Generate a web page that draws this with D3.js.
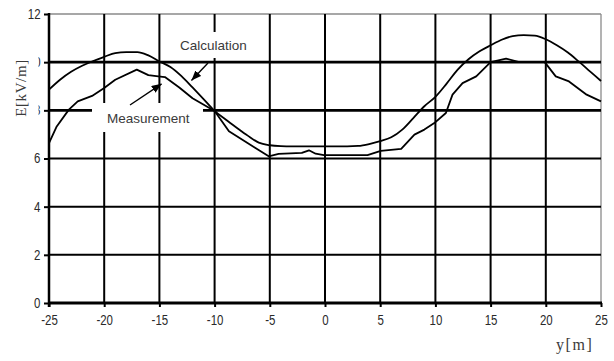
<!DOCTYPE html>
<html>
<head>
<meta charset="utf-8">
<script src="https://cdn.jsdelivr.net/npm/d3@7/dist/d3.min.js"></script>
<style>
  html, body { margin: 0; padding: 0; background: #fff; }
  svg { display: block; }
</style>
</head>
<body>
<svg id="chart" width="614" height="361"></svg>
<script>
// Lateral distance y [m] and electric field E [kV/m] under the line
const xTicks = [-25, -20, -15, -10, -5, 0, 5, 10, 15, 20, 25];
const yTicks = [0, 2, 4, 6, 8, 10, 12];

// Calculated field profile
const calcX = [-25, -24, -23, -22, -21, -20, -19, -18, -17, -16, -15, -14, -13, -12, -11, -10,
  -9, -8, -7, -6, -5, -4, -3, -2, -1, 0, 1, 2, 3, 4, 5, 6, 7, 8, 9, 10,
  11, 12, 13, 14, 15, 16, 17, 18, 19, 20, 21, 22, 23, 24, 25];
const calcE = [8.86, 9.27, 9.6, 9.85, 10.05, 10.22, 10.38, 10.42, 10.42, 10.28, 10.03, 9.8, 9.42, 8.95, 8.47, 7.98,
  7.62, 7.28, 6.95, 6.66, 6.55, 6.51, 6.5, 6.5, 6.5, 6.5, 6.5, 6.5, 6.52, 6.6, 6.72, 6.88, 7.2, 7.68, 8.17, 8.56,
  9.1, 9.68, 10.12, 10.45, 10.7, 10.93, 11.08, 11.12, 11.1, 10.95, 10.7, 10.4, 10.02, 9.62, 9.22];

// Measured field profile
const measX = [-25, -24.3, -23.2, -22.4, -21.1, -20, -19, -17.05, -16, -15.1, -14.5, -13.2, -12,
  -10, -8.7, -6.3, -5.1, -4.2, -2.1, -1.45, -0.85, -0.1, 3.85, 5.05, 6.9, 8.1, 9.0, 9.9,
  10.95, 11.55, 12.46, 13.7, 15.0, 16.4, 17.6, 19.9, 20.9, 22.1, 23.7, 25];
const measE = [6.64, 7.33, 8.03, 8.37, 8.6, 8.93, 9.27, 9.69, 9.46, 9.41, 9.38, 8.95, 8.5,
  7.97, 7.13, 6.44, 6.09, 6.19, 6.23, 6.34, 6.2, 6.14, 6.14, 6.32, 6.4, 6.99, 7.2, 7.47,
  7.89, 8.65, 9.13, 9.41, 10.0, 10.15, 10.0, 10.0, 9.41, 9.2, 8.65, 8.37];

const svg = d3.select("#chart");
const plotL = 49, plotR = 601, plotT = 14, plotB = 303;

const x = d3.scaleLinear().domain([-25, 25]).range([plotL, plotR]);
const y = d3.scaleLinear().domain([0, 12]).range([plotB, plotT]);

const tickFont = "'Liberation Sans', Arial, sans-serif";
const squeeze = 0.82; // condensed look of the tick numerals

// Outer frame (top and right edges in grey)
svg.append("line").attr("x1", plotL).attr("x2", plotR).attr("y1", y(12)).attr("y2", y(12))
  .attr("stroke", "#8a8a8a").attr("stroke-width", 1.3);
svg.append("line").attr("x1", x(25)).attr("x2", x(25)).attr("y1", plotT).attr("y2", plotB)
  .attr("stroke", "#8a8a8a").attr("stroke-width", 1.3);

// Grid
const grid = svg.append("g");
xTicks.filter(v => v > -25 && v < 25).forEach(v => {
  grid.append("line").attr("x1", x(v)).attr("x2", x(v)).attr("y1", plotT).attr("y2", plotB)
    .attr("stroke", "#000").attr("stroke-width", 2);
});
yTicks.filter(v => v > 0 && v < 12).forEach(v => {
  grid.append("line").attr("x1", plotL).attr("x2", plotR).attr("y1", y(v)).attr("y2", y(v))
    .attr("stroke", "#000").attr("stroke-width", v >= 8 ? 2.8 : 2);
});

// Axes
const yAxis = svg.append("g").attr("transform", `translate(${plotL},0)`)
  .call(d3.axisLeft(y).tickValues(yTicks).tickSize(5).tickPadding(4).tickFormat(d => String(d)));
const xAxis = svg.append("g").attr("transform", `translate(0,${plotB})`)
  .call(d3.axisBottom(x).tickValues(xTicks).tickSize(4).tickPadding(8).tickFormat(d => String(d)));

[yAxis, xAxis].forEach(a => {
  a.select(".domain").remove();
  a.selectAll(".tick line").attr("stroke", "#000").attr("stroke-width", 2);
  a.selectAll(".tick text").attr("font-family", tickFont).attr("font-size", 14)
    .attr("fill", "#2a2a2a").attr("transform", `scale(${squeeze},1)`);
});
yAxis.selectAll(".tick text").attr("x", -8.5 / squeeze);

svg.append("line").attr("x1", plotL).attr("x2", plotL).attr("y1", plotT - 1).attr("y2", plotB + 4)
  .attr("stroke", "#000").attr("stroke-width", 2.5);
svg.append("line").attr("x1", plotL).attr("x2", plotR + 1).attr("y1", y(0)).attr("y2", y(0))
  .attr("stroke", "#000").attr("stroke-width", 3);

// Label backgrounds break the grid
svg.append("rect").attr("x", 92).attr("y", 103).attr("width", 111).attr("height", 29).attr("fill", "#fff");
svg.append("rect").attr("x", 176).attr("y", 32).attr("width", 78).attr("height", 26).attr("fill", "#fff");

// Curves
svg.append("path").datum(d3.zip(calcX, calcE))
  .attr("d", d3.line().x(d => x(d[0])).y(d => y(d[1])).curve(d3.curveMonotoneX))
  .attr("fill", "none").attr("stroke", "#000").attr("stroke-width", 1.8)
  .attr("stroke-linejoin", "round");
svg.append("path").datum(d3.zip(measX, measE))
  .attr("d", d3.line().x(d => x(d[0])).y(d => y(d[1])))
  .attr("fill", "none").attr("stroke", "#000").attr("stroke-width", 1.8)
  .attr("stroke-linejoin", "round");

// Arrow markers
svg.append("defs").append("marker").attr("id", "arrow")
  .attr("viewBox", "0 0 10 8").attr("refX", 10).attr("refY", 4)
  .attr("markerWidth", 10).attr("markerHeight", 8).attr("markerUnits", "userSpaceOnUse")
  .attr("orient", "auto")
  .append("path").attr("d", "M0,0 L10,4 L0,8 Z").attr("fill", "#000");

// Callouts
const labelFont = "'Liberation Sans', Arial, sans-serif";
svg.append("text").attr("x", 180).attr("y", 50).text("Calculation")
  .attr("font-family", labelFont).attr("font-size", 13.5).attr("fill", "#3a3a3a");
svg.append("line").attr("x1", 208).attr("y1", 63).attr("x2", x(-12.1)).attr("y2", y(9.24))
  .attr("stroke", "#000").attr("stroke-width", 1.4).attr("marker-end", "url(#arrow)");

svg.append("text").attr("x", 107).attr("y", 123).text("Measurement")
  .attr("font-family", labelFont).attr("font-size", 13.5).attr("fill", "#3a3a3a");
svg.append("line").attr("x1", 130).attr("y1", 105).attr("x2", x(-14.8)).attr("y2", y(9.1))
  .attr("stroke", "#000").attr("stroke-width", 1.4).attr("marker-end", "url(#arrow)");

// Axis titles (the vertical one sits on a white box over the tick labels)
const serif = "'Liberation Serif', 'Times New Roman', serif";
svg.append("rect").attr("x", 11).attr("y", 55).attr("width", 27.5).attr("height", 66).attr("fill", "#fff");
svg.append("text").attr("transform", "translate(26,88) rotate(-90)")
  .attr("text-anchor", "middle").text("E[kV/m]")
  .attr("font-family", serif).attr("font-size", 15).attr("letter-spacing", 0.6).attr("fill", "#3a3a3a");
svg.append("text").attr("x", 556).attr("y", 350).text("y[m]")
  .attr("font-family", serif).attr("font-size", 16).attr("letter-spacing", 1.6).attr("fill", "#3a3a3a");
</script>
</body>
</html>
